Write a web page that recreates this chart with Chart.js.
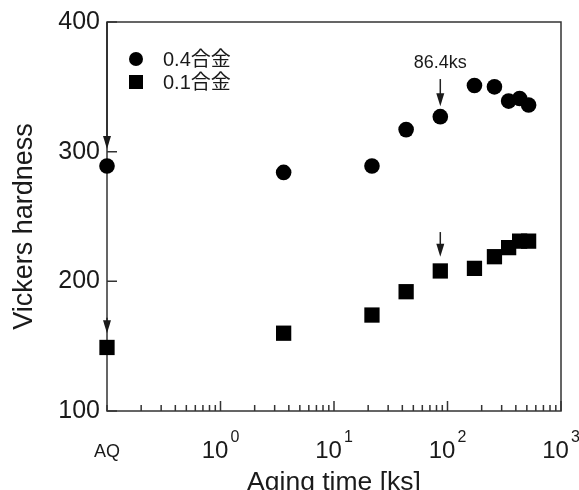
<!DOCTYPE html>
<html>
<head>
<meta charset="utf-8">
<script src="https://cdn.jsdelivr.net/npm/chart.js@4/dist/chart.umd.min.js"></script>
<style>
  html, body { margin: 0; padding: 0; background: #fff; }
</style>
</head>
<body>
<canvas id="chart" width="579" height="490"></canvas>
<script>
// aging time in ks (AQ = as quenched, drawn at the left edge 0.1)
const agingTimes = [0.1, 3.6, 21.6, 43.2, 86.4, 172.8, 259.2, 345.6, 432, 518.4];
const hardness04 = [289, 284, 289, 317, 327, 351, 350, 339, 341, 336];
const hardness01 = [149, 160, 174, 192, 208, 210, 219, 226, 231, 231];
const seriesLabels = ['0.4合金', '0.1合金'];

const xTickValues = [0.1, 1, 10, 100, 1000];
const xTickBases = ['AQ', '10', '10', '10', '10'];
const xTickExponents = ['', '0', '1', '2', '3'];
const yTickValues = [100, 200, 300, 400];
const yTitle = 'Vickers hardness';

// arrows (data units): x, from y, to y
const arrowX = [0.1, 0.1, 86.4, 86.4];
const arrowFrom = [400, 172, 356, 238];
const arrowTo = [302, 160, 335, 219];
const noteText = '86.4ks';
const noteX = 86.4;
const noteY = 368;

const FONT = '"Liberation Sans", Arial, "Noto Sans CJK JP", sans-serif';
const INK = '#1a1a1a';

const toPoints = (ys) => agingTimes.map((x, i) => ({ x: x, y: ys[i] }));

const decorPlugin = {
  id: 'decor',
  beforeDatasetsDraw(chart) {
    const { ctx, chartArea: a, scales: { x, y } } = chart;
    ctx.save();
    ctx.strokeStyle = '#333';
    ctx.lineWidth = 1.5;
    ctx.strokeRect(a.left, a.top, a.right - a.left, a.bottom - a.top);

    // inward ticks on x (major + minor)
    ctx.beginPath();
    for (let d = 0.1; d < 1000; d *= 10) {
      for (let m = 1; m <= 10; m++) {
        const px = x.getPixelForValue(d * m);
        const len = m === 10 ? 10 : 6;
        ctx.moveTo(px, a.bottom);
        ctx.lineTo(px, a.bottom - len);
      }
    }
    // inward ticks on y
    yTickValues.forEach(v => {
      const py = y.getPixelForValue(v);
      ctx.moveTo(a.left, py);
      ctx.lineTo(a.left + 10, py);
    });
    ctx.stroke();
    ctx.restore();
  },
  afterDraw(chart) {
    const { ctx, chartArea: a, scales: { x, y } } = chart;
    ctx.save();
    ctx.fillStyle = INK;

    // y axis title (a little below the plot centre, as in the original)
    ctx.save();
    ctx.translate(25, (a.top + a.bottom) / 2 + 10);
    ctx.rotate(-Math.PI / 2);
    ctx.font = '27px ' + FONT;
    ctx.textAlign = 'center';
    ctx.textBaseline = 'middle';
    ctx.fillText(yTitle, 0, 0);
    ctx.restore();

    // x tick labels with superscript exponents
    ctx.textBaseline = 'alphabetic';
    xTickValues.forEach((v, i) => {
      const px = x.getPixelForValue(v);
      const base = xTickBases[i];
      const exp = xTickExponents[i];
      if (!exp) {
        ctx.font = '18px ' + FONT;
        ctx.textAlign = 'center';
        ctx.fillText(base, px, 457);
        return;
      }
      ctx.font = '24px ' + FONT;
      const wb = ctx.measureText(base).width;
      ctx.font = '16px ' + FONT;
      const we = ctx.measureText(exp).width + 2;
      const left = px - (wb + we) / 2;
      ctx.textAlign = 'left';
      ctx.font = '24px ' + FONT;
      ctx.fillText(base, left, 458);
      ctx.font = '16px ' + FONT;
      ctx.fillText(exp, left + wb + 2, 442);
    });

    // arrows
    ctx.strokeStyle = '#222';
    ctx.lineWidth = 1.5;
    arrowX.forEach((v, i) => {
      const px = x.getPixelForValue(v);
      const y0 = y.getPixelForValue(arrowFrom[i]);
      const y1 = y.getPixelForValue(arrowTo[i]);
      ctx.beginPath();
      ctx.moveTo(px, y0);
      ctx.lineTo(px, y1 - 10);
      ctx.stroke();
      ctx.beginPath();
      ctx.moveTo(px, y1);
      ctx.lineTo(px - 4, y1 - 13);
      ctx.lineTo(px + 4, y1 - 13);
      ctx.closePath();
      ctx.fill();
    });

    // note
    ctx.font = '18px ' + FONT;
    ctx.textAlign = 'center';
    ctx.textBaseline = 'middle';
    ctx.fillText(noteText, x.getPixelForValue(noteX), y.getPixelForValue(noteY));

    // legend
    const lx = a.left + 29;
    const ly = [a.top + 37, a.top + 60];
    ctx.fillStyle = '#000';
    Chart.helpers.drawPoint(ctx, { pointStyle: 'circle', radius: 7, borderWidth: 0 }, lx, ly[0]);
    ctx.fillRect(lx - 7, ly[1] - 7, 14, 14);
    ctx.fillStyle = INK;
    ctx.font = '20px ' + FONT;
    ctx.textAlign = 'left';
    ctx.textBaseline = 'middle';
    seriesLabels.forEach((t, i) => ctx.fillText(t, a.left + 56, ly[i] + 1));
    ctx.restore();
  }
};

new Chart(document.getElementById('chart'), {
  type: 'scatter',
  data: {
    datasets: [
      {
        label: seriesLabels[0],
        data: toPoints(hardness04),
        pointStyle: 'circle',
        pointRadius: 7.8,
        pointHoverRadius: 7.8,
        backgroundColor: '#000',
        borderColor: '#000',
        borderWidth: 0,
        clip: false
      },
      {
        label: seriesLabels[1],
        data: toPoints(hardness01),
        pointStyle: 'rect',
        pointRadius: 10.8,
        pointHoverRadius: 10.8,
        backgroundColor: '#000',
        borderColor: '#000',
        borderWidth: 0,
        clip: false
      }
    ]
  },
  options: {
    responsive: false,
    animation: false,
    layout: { padding: { top: 21, right: 18, left: 0, bottom: 0 } },
    plugins: {
      legend: { display: false },
      tooltip: { enabled: false }
    },
    scales: {
      x: {
        type: 'logarithmic',
        min: 0.1,
        max: 1000,
        grid: { display: false, drawTicks: false },
        border: { display: false },
        ticks: { display: false },
        title: {
          display: true,
          text: 'Aging time [ks]',
          color: INK,
          font: { family: FONT, size: 26.5 },
          padding: { top: 0, bottom: -9 }
        },
        afterFit: (scale) => { scale.height = 79; }
      },
      y: {
        min: 100,
        max: 400,
        grid: { display: false, drawTicks: false },
        border: { display: false },
        ticks: {
          stepSize: 100,
          padding: 7,
          color: INK,
          font: { family: FONT, size: 25 }
        },
        afterFit: (scale) => { scale.width = 107; }
      }
    }
  },
  plugins: [decorPlugin]
});
</script>
</body>
</html>
